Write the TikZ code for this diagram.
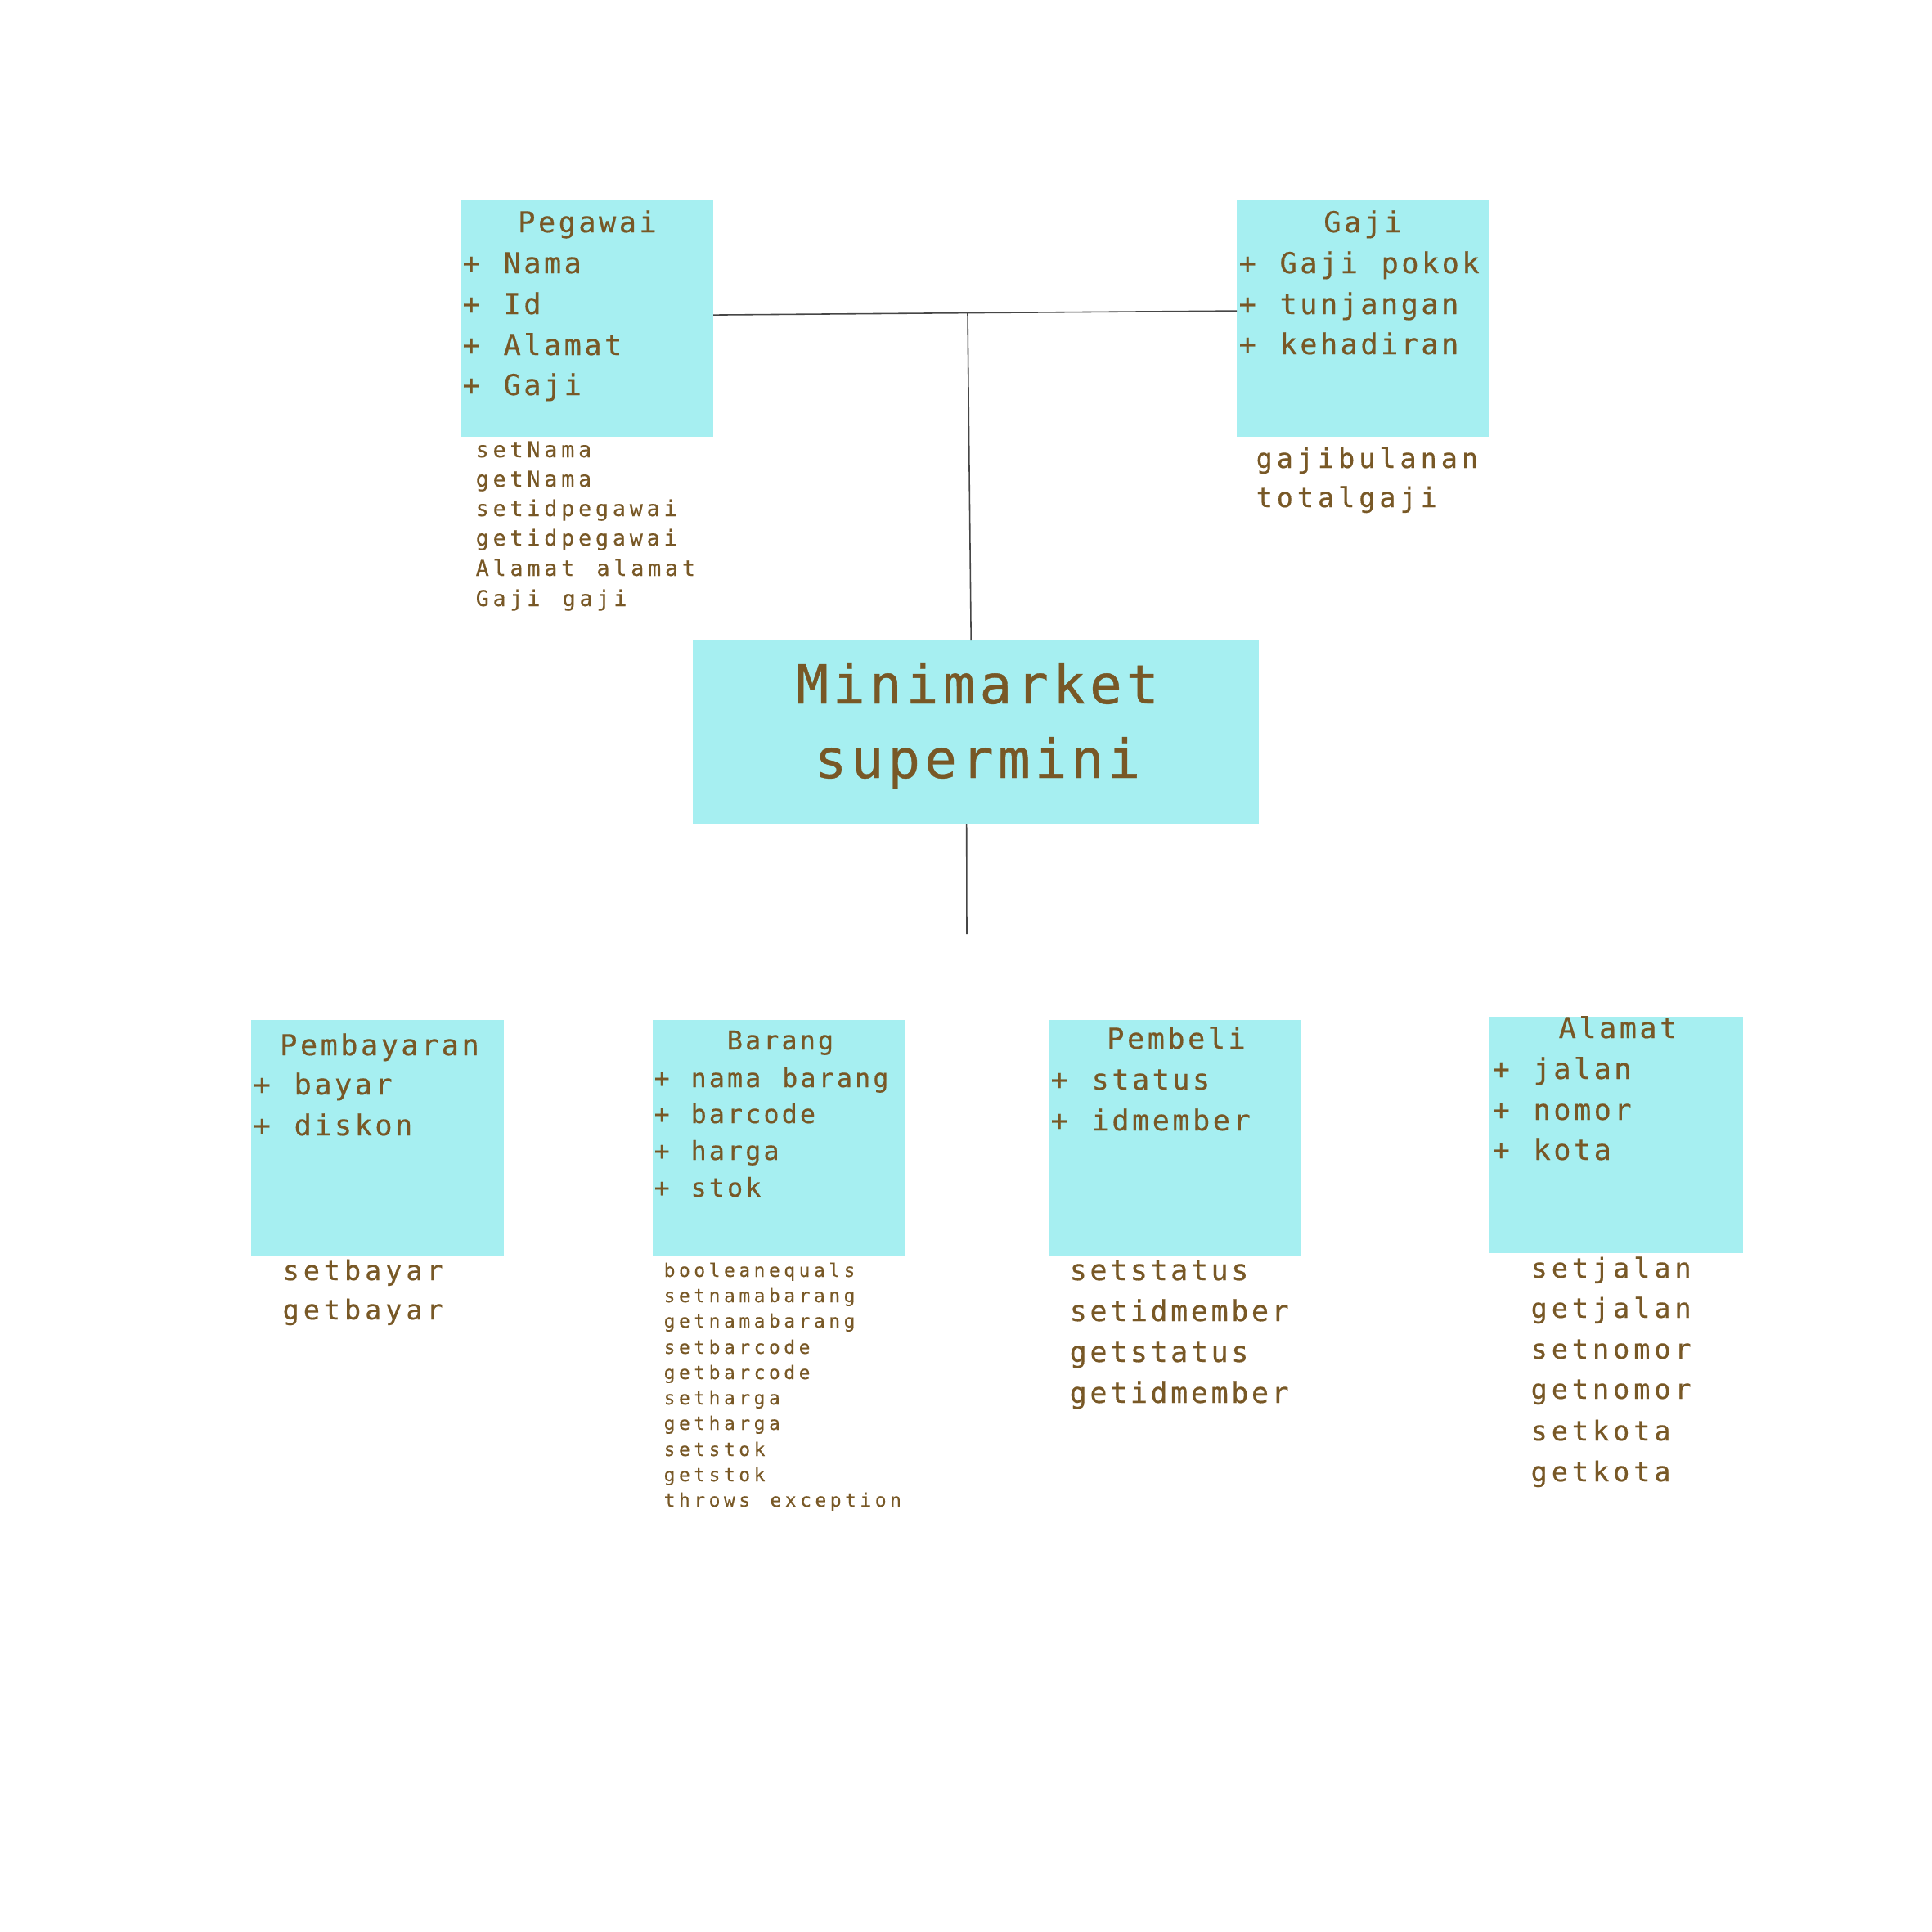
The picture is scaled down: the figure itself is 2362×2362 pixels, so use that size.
\documentclass[tikz,border=0pt]{standalone}
\usepackage{fontspec}
\newfontfamily\fmain[LetterSpace=10, WordSpace=1.166, FakeBold=0.4]{DejaVu Sans Mono}
\newfontfamily\fmeth[LetterSpace=15, WordSpace=1.25, FakeBold=0.4]{DejaVu Sans Mono}
\newfontfamily\fpm[LetterSpace=18, WordSpace=1.3, FakeBold=0.3]{DejaVu Sans Mono}
\newfontfamily\fbm[LetterSpace=20, WordSpace=1.33, FakeBold=0.3]{DejaVu Sans Mono}
\newfontfamily\fbig[LetterSpace=8, WordSpace=1.13, FakeBold=0.6]{DejaVu Sans Mono}
\definecolor{boxc}{RGB}{166,239,241}
\definecolor{txtc}{RGB}{120,88,38}
\definecolor{linec}{RGB}{70,70,70}
\tikzset{
  cls/.style={fill=boxc, draw=none, inner sep=0pt, outer sep=0pt, anchor=north west},
  txt/.style={text=txtc, inner sep=0pt, anchor=base west},
  ttl/.style={text=txtc, inner sep=0pt, anchor=base},
  conn/.style={draw=linec, line width=0.45pt},
  fa/.style={font=\fmain\fontsize{10}{12}\selectfont},
  fb/.style={font=\fmain\fontsize{9}{11}\selectfont},
  fm/.style={font=\fmeth\fontsize{9.5}{11}\selectfont},
  fp/.style={font=\fpm\fontsize{7.6}{9}\selectfont},
  fs/.style={font=\fbm\fontsize{6.5}{8}\selectfont},
  fbig/.style={font=\fbig\fontsize{18.7}{22}\selectfont},
}
\begin{document}
\begin{tikzpicture}[x=0.01cm, y=-0.01cm]
\useasboundingbox[fill=white] (0,0) rectangle (2362,2362);

% class boxes
\node[cls, minimum width=3.08cm, minimum height=2.89cm] (peg) at (564,245) {};
\node[cls, minimum width=3.09cm, minimum height=2.89cm] (gaji) at (1512,245) {};
\node[cls, minimum width=6.92cm, minimum height=2.25cm] (ctr) at (847,783) {};
\node[cls, minimum width=3.09cm, minimum height=2.88cm] (bayar) at (307,1247) {};
\node[cls, minimum width=3.09cm, minimum height=2.88cm] (brg) at (798,1247) {};
\node[cls, minimum width=3.09cm, minimum height=2.88cm] (beli) at (1282,1247) {};
\node[cls, minimum width=3.10cm, minimum height=2.89cm] (alm) at (1821,1243) {};

% connectors
\coordinate (jn) at (1183,382.6);
\coordinate (lowend) at (1182,1142);
\draw[conn] ([yshift=0.045cm]peg.east) -- (jn) -- ([yshift=0.095cm]gaji.west);
\draw[conn] (jn) -- ([xshift=-0.06cm]ctr.north);
\draw[conn] ([xshift=-0.115cm]ctr.south) -- (lowend);

% Pegawai
\node[ttl, fa] (pegT) at (718,284) {Pegawai};
\foreach \y/\s [count=\i] in {334/Nama, 384/Id, 434/Alamat, 483/Gaji}
  \node[txt, fa] (pegA\i) at (565,\y) {+ \s};
\foreach \y/\s [count=\i] in {559/setNama, 595/getNama, 631/setidpegawai, 667/getidpegawai, 704/Alamat alamat, 741/Gaji gaji}
  \node[txt, fp] (pegM\i) at (581,\y) {\s};

% Gaji
\node[ttl, fa] (gajiT) at (1666,284) {Gaji};
\foreach \y/\s [count=\i] in {334/Gaji pokok, 384/tunjangan, 433/kehadiran}
  \node[txt, fa] (gajiA\i) at (1514,\y) {+ \s};
\foreach \y/\s [count=\i] in {572/gajibulanan, 620/totalgaji}
  \node[txt, fm] (gajiM\i) at (1535,\y) {\s};

% centre
\node[ttl, fbig] (ctr1) at (1195,860) {Minimarket};
\node[ttl, fbig] (ctr2) at (1195,951) {supermini};

% Pembayaran
\node[ttl, fa] (bayarT) at (464,1290) {Pembayaran};
\foreach \y/\s [count=\i] in {1338/bayar, 1388/diskon}
  \node[txt, fa] (bayarA\i) at (309,\y) {+ \s};
\foreach \y/\s [count=\i] in {1565/setbayar, 1613/getbayar}
  \node[txt, fm] (bayarM\i) at (345,\y) {\s};

% Barang
\node[ttl, fb] (brgT) at (954,1283) {Barang};
\foreach \y/\s [count=\i] in {1329/nama barang, 1373/barcode, 1418/harga, 1463/stok}
  \node[txt, fb] (brgA\i) at (799,\y) {+ \s};
\foreach \y/\s [count=\i] in {1561/booleanequals, 1592/setnamabarang, 1623/getnamabarang, 1655/setbarcode, 1686/getbarcode, 1717/setharga, 1748/getharga, 1780/setstok, 1811/getstok, 1842/throws exception}
  \node[txt, fs] (brgM\i) at (811,\y) {\s};

% Pembeli
\node[ttl, fa] (beliT) at (1438,1282) {Pembeli};
\foreach \y/\s [count=\i] in {1332/status, 1382/idmember}
  \node[txt, fa] (beliA\i) at (1284,\y) {+ \s};
\foreach \y/\s [count=\i] in {1565/setstatus, 1615/setidmember, 1665/getstatus, 1715/getidmember}
  \node[txt, fa] (beliM\i) at (1307,\y) {\s};

% Alamat
\node[ttl, fa] (almT) at (1978,1269) {Alamat};
\foreach \y/\s [count=\i] in {1319/jalan, 1369/nomor, 1418/kota}
  \node[txt, fa] (almA\i) at (1824,\y) {+ \s};
\foreach \y/\s [count=\i] in {1562/setjalan, 1611/getjalan, 1661/setnomor, 1710/getnomor, 1761/setkota, 1811/getkota}
  \node[txt, fm] (almM\i) at (1871,\y) {\s};
\end{tikzpicture}
\end{document}
